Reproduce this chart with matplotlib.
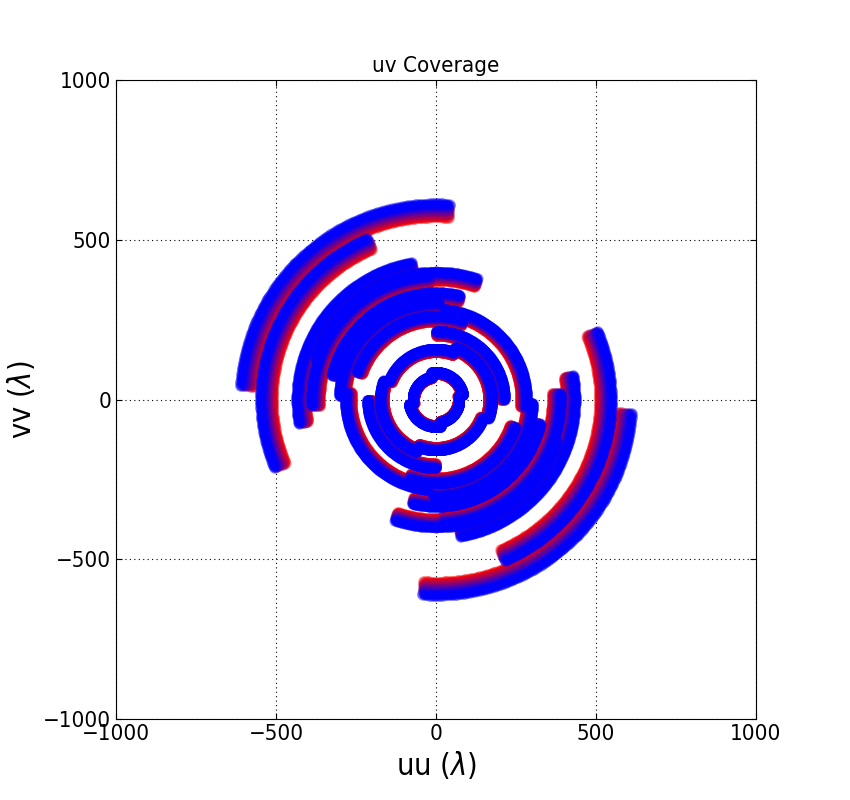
import numpy as np
import matplotlib.pyplot as plt

plt.rcParams['font.family'] = ['DejaVu Sans']
plt.rcParams['font.stretch'] = 'condensed'

# baseline length (lambda) and start position angle (deg) of each uv track
baseline_len = [570, 510, 405, 372, 362, 312, 282, 264, 244, 200, 163, 148, 80, 68]
baseline_pa = [86, 113, 100, 71, 93, 77, 88, -5, 71, 0, -20, 69, 10, 100]
track_span = 90  # degrees swept during the observation

# channel frequency relative to the lowest one
chan_scale = [1.000, 1.007, 1.014, 1.021, 1.028, 1.035, 1.042,
              1.049, 1.056, 1.063, 1.070, 1.077]

fig = plt.figure(figsize=(8.5, 8), dpi=100)
ax = fig.add_axes([116/850, 81/800, 640/850, 639/800])

nchan = len(chan_scale)
for k, s in enumerate(chan_scale):
    t = k / (nchan - 1)
    color = (1 - t, 0, t)
    uu, vv = [], []
    for r, pa in zip(baseline_len, baseline_pa):
        ha = np.radians(np.linspace(pa, pa + track_span, 240))
        u = r * s * np.cos(ha)
        v = r * s * np.sin(ha)
        uu.append(np.concatenate([u, -u]))
        vv.append(np.concatenate([v, -v]))
    ax.plot(np.concatenate(uu), np.concatenate(vv), 'o', ms=7.5,
            mfc=color, mec='none', alpha=0.3)

ax.set_xlim(-1000, 1000)
ax.set_ylim(-1000, 1000)
ax.set_xticks([-1000, -500, 0, 500, 1000])
ax.set_yticks([-1000, -500, 0, 500, 1000])
ax.tick_params(direction='in', top=True, right=True, labelsize=16, length=4)
ax.grid(True, linestyle=(0, (1, 3)), color='black', linewidth=0.8)
ax.set_xlabel(r'uu ($\lambda$)', fontsize=22)
ax.set_ylabel(r'vv ($\lambda$)', fontsize=22)
ax.set_title('uv Coverage', fontsize=16)

fig.savefig('out.png', dpi=100)
